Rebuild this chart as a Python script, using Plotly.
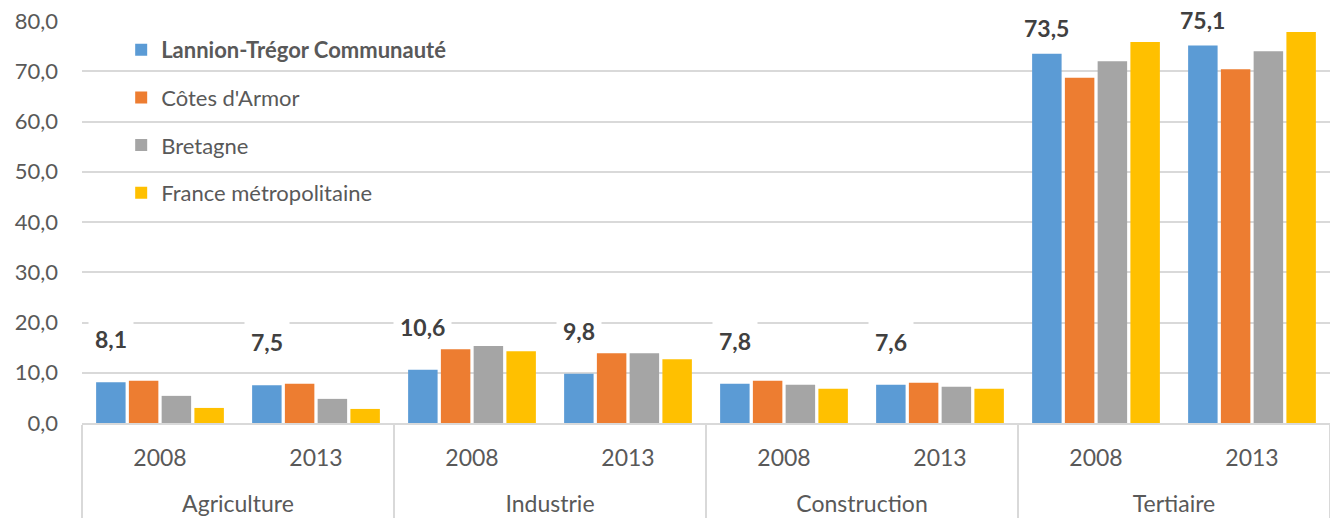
import plotly.graph_objects as go

sectors = ["Agriculture", "Industrie", "Construction", "Tertiaire"]
years = ["2008", "2013"]

series_names = ["Lannion-Trégor Communauté", "Côtes d'Armor", "Bretagne", "France métropolitaine"]
lannion = [8.1, 7.5, 10.6, 9.8, 7.8, 7.6, 73.5, 75.1]
cotes = [8.4, 7.8, 14.7, 13.9, 8.4, 8.0, 68.7, 70.4]
bretagne = [5.4, 4.8, 15.3, 13.9, 7.6, 7.2, 72.0, 74.0]
france = [3.0, 2.8, 14.3, 12.7, 6.8, 6.8, 75.8, 77.8]
colors = ["#5B9BD5", "#ED7D31", "#A5A5A5", "#FFC000"]
y_ticks = [0, 10, 20, 30, 40, 50, 60, 70, 80]

# sector labels get a leading blank line so they sit lower than the years
x_sector = ["<br>" + s for s in sectors for _ in years]
x_year = [y for _ in sectors for y in years]

BARGAP = 0.16
GROUPGAP = 0.1
FONT = "Lato, Open Sans, sans-serif"
TXT = "#595959"

fig = go.Figure()
all_series = [lannion, cotes, bretagne, france]
for i, (name, vals, col) in enumerate(zip(series_names, all_series, colors)):
    label = f"<b>{name}</b>" if i == 0 else name
    fig.add_trace(go.Bar(
        x=[x_sector, x_year], y=vals, name=label,
        marker=dict(color=col, line=dict(width=0)),
        legendgroup=f"g{i}",
        hoverinfo="y+name",
    ))

# data labels above the Lannion bars
n_series = len(all_series)
slot = (1 - BARGAP) / n_series
offset = -(1 - BARGAP) / 2 + slot / 2
for idx, v in enumerate(lannion):
    fig.add_annotation(
        x=idx + offset, y=v, xref="x", yref="y",
        text=f"<b>{v:.1f}</b>".replace(".", ","),
        showarrow=False, yanchor="middle", yshift=43 if v < 50 else 26,
        bgcolor="white", borderpad=6,
        font=dict(family=FONT, size=23, color="#404040"),
    )

fig.update_layout(
    width=1330, height=522,
    margin=dict(l=82, r=0, t=21, b=99),
    paper_bgcolor="white", plot_bgcolor="white",
    barmode="group", bargap=BARGAP, bargroupgap=GROUPGAP,
    separators=", ",
    font=dict(family=FONT, size=23, color=TXT),
    showlegend=True,
    legend=dict(
        x=0.0314, y=0.98, xanchor="left", yanchor="top",
        bgcolor="rgba(0,0,0,0)", font=dict(family=FONT, size=22, color=TXT),
        tracegroupgap=16, itemwidth=30,
    ),
)
fig.update_yaxes(
    range=[0, 80], tickvals=y_ticks, tickformat=".1f",
    showgrid=True, gridcolor="#D9D9D9", gridwidth=1.5,
    zeroline=False, showline=False, ticks="", automargin=False,
    ticklabelstandoff=23,
    tickfont=dict(family=FONT, size=22, color=TXT),
)
fig.update_xaxes(
    type="multicategory", automargin=False,
    showline=True, linecolor="#D9D9D9", linewidth=1.5,
    showdividers=True, dividercolor="#D9D9D9", dividerwidth=1.5,
    ticks="", ticklabelstandoff=14,
    tickfont=dict(family=FONT, size=23, color=TXT),
)

fig.write_html(
    "out.html",
    config={"displayModeBar": False},
    post_script="document.body.style.margin='0';document.body.style.overflow='hidden';",
)
